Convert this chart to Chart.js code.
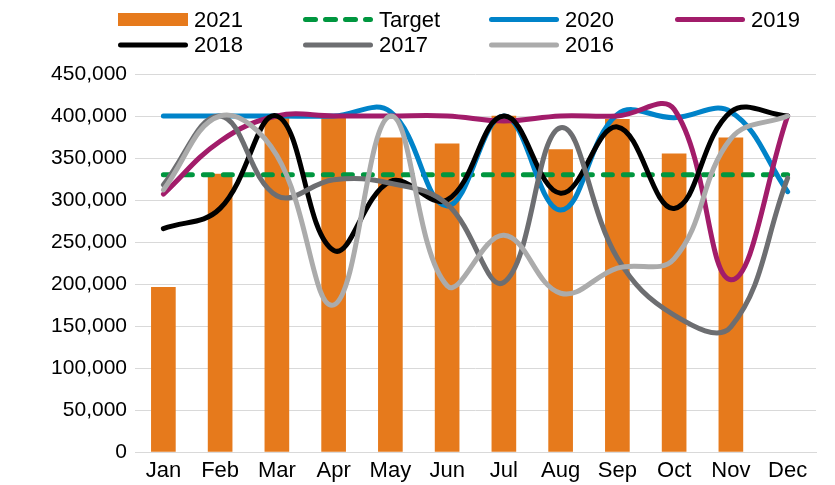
<!DOCTYPE html>
<html>
<head>
<meta charset="utf-8">
<script src="https://cdn.jsdelivr.net/npm/chart.js@4.4.1/dist/chart.umd.min.js"></script>
<style>
html,body{margin:0;padding:0;background:#fff;}
#wrap{width:835px;height:485px;position:relative;}
</style>
</head>
<body>
<div id="wrap"><canvas id="c" width="835" height="485"></canvas></div>
<script>
const months = ["Jan","Feb","Mar","Apr","May","Jun","Jul","Aug","Sep","Oct","Nov","Dec"];
const yTicks = [0,50000,100000,150000,200000,250000,300000,350000,400000,450000];

const s2021   = [196000,331000,398000,398000,374000,367000,400000,360000,396000,355000,374000,null];
const sTarget = [330000,330000,330000,330000,330000,330000,330000,330000,330000,330000,330000,330000];
const s2020   = [400000,400000,400000,400000,405000,293000,400000,288000,402000,398000,405000,310000];
const s2019   = [307000,370000,400000,400000,400000,400000,394000,400000,400000,408000,205000,400000];
const s2018   = [266000,290000,400000,240000,322000,300000,400000,308000,387000,290000,405000,400000];
const s2017   = [318000,400000,305000,324000,320000,295000,202000,386000,231000,163000,149000,326000];
const s2016   = [312000,400000,353000,175000,400000,198000,258000,189000,219000,230000,373000,400000];

const FONT = "'Liberation Sans', Arial, sans-serif";

function lineDs(label, data, color, order, extra) {
  return Object.assign({
    type: 'line', label, data,
    borderColor: color, backgroundColor: color,
    borderWidth: 5, pointRadius: 0, pointHoverRadius: 0,
    tension: 0.4, fill: false, borderCapStyle: 'round', borderJoinStyle: 'round',
    order
  }, extra || {});
}

const legendLayout = [
  {label:'2021', kind:'box',  color:'#E67A1C', x:118, y:19.5},
  {label:'Target', kind:'dash', color:'#00963F', x:303, y:19.5},
  {label:'2020', kind:'line', color:'#0083C9', x:489, y:19.5},
  {label:'2019', kind:'line', color:'#A21C6A', x:675, y:19.5},
  {label:'2018', kind:'line', color:'#000000', x:118, y:45},
  {label:'2017', kind:'line', color:'#6D6E71', x:303, y:45},
  {label:'2016', kind:'line', color:'#ABABAB', x:489, y:45}
];

const legendPlugin = {
  id: 'customLegend',
  afterDraw(chart) {
    const ctx = chart.ctx;
    ctx.save();
    legendLayout.forEach(it => {
      const w = 70;
      if (it.kind === 'box') {
        ctx.fillStyle = it.color;
        ctx.fillRect(it.x, it.y - 6.5, w, 13);
      } else {
        ctx.strokeStyle = it.color;
        ctx.lineWidth = 5;
        ctx.lineCap = 'round';
        if (it.kind === 'dash') ctx.setLineDash([10, 10]); else ctx.setLineDash([]);
        ctx.beginPath();
        ctx.moveTo(it.x + 2.5, it.y);
        ctx.lineTo(it.x + w - 2.5, it.y);
        ctx.stroke();
        ctx.setLineDash([]);
      }
      ctx.fillStyle = '#000';
      ctx.font = '22px ' + FONT;
      ctx.textBaseline = 'middle';
      ctx.textAlign = 'left';
      ctx.fillText(it.label, it.x + w + 6, it.y + 1);
    });
    ctx.restore();
  }
};

const ctx = document.getElementById('c').getContext('2d');
new Chart(ctx, {
  data: {
    labels: months,
    datasets: [
      {type:'bar', label:'2021', data:s2021, backgroundColor:'#E67A1C', barThickness:24, order:10},
      lineDs('Target', sTarget, '#00963F', 7, {tension:0, borderDash:[9,11]}),
      lineDs('2020', s2020, '#0083C9', 6),
      lineDs('2019', s2019, '#A21C6A', 5),
      lineDs('2018', s2018, '#000000', 4),
      lineDs('2017', s2017, '#6D6E71', 3),
      lineDs('2016', s2016, '#ABABAB', 2)
    ]
  },
  options: {
    responsive: false,
    animation: false,
    layout: {padding: {top: 74, right: 19, left: 0, bottom: 0}},
    plugins: {legend: {display: false}, tooltip: {enabled: false}},
    scales: {
      x: {
        grid: {display: false, drawTicks: false},
        border: {display: true, color: '#D9D9D9', width: 1},
        ticks: {color: '#000', font: {family: FONT, size: 22}, padding: 6, maxRotation: 0, autoSkip: false},
        afterFit(s) { s.height = 33; }
      },
      y: {
        min: 0, max: 450000,
        afterBuildTicks(s) { s.ticks = yTicks.map(v => ({value: v})); },
        grid: {color: '#D9D9D9', lineWidth: 1, drawTicks: false},
        border: {display: false},
        ticks: {color: '#000', font: {family: FONT, size: 21}, padding: 8,
          callback: v => Number(v).toLocaleString('en-US')},
        afterFit(s) { s.width = 135; }
      }
    }
  },
  plugins: [legendPlugin]
});
</script>
</body>
</html>
